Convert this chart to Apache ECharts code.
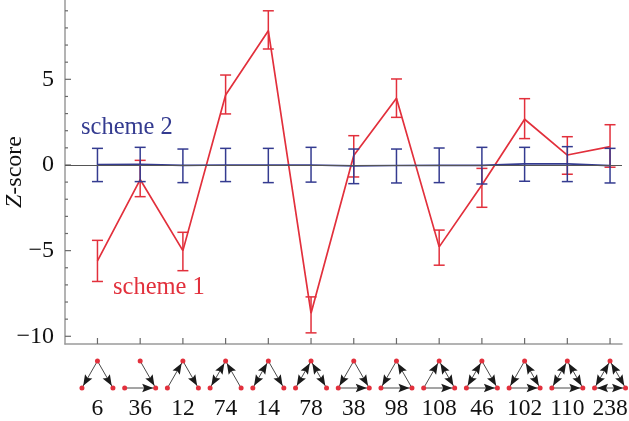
<!DOCTYPE html>
<html>
<head>
<meta charset="utf-8">
<style>
    html, body { margin: 0; padding: 0; background: #fff; }
    #main { width: 629px; height: 421px; }
</style>
<script src="https://cdn.jsdelivr.net/npm/echarts@6/dist/echarts.min.js"></script>
</head>
<body>
<div id="main"></div>
<script>
var categories = ['6', '36', '12', '74', '14', '78', '38', '98', '108', '46', '102', '110', '238'];

var scheme1Mean = [-5.6, -0.85, -5.0, 4.09, 7.84, -8.65, 0.55, 3.89, -4.78, -1.17, 2.67, 0.58, 1.07];
var scheme1High = [-4.4, 0.27, -3.93, 5.25, 9.0, -7.7, 1.71, 5.02, -3.8, -0.2, 3.87, 1.65, 2.35];
var scheme1Low = [-6.8, -1.85, -6.17, 2.98, 6.77, -9.8, -0.7, 2.78, -5.85, -2.47, 1.54, -0.54, -0.13];

var scheme2Mean = [0.02, 0.03, -0.02, 0, 0, 0, -0.05, -0.03, -0.02, -0.02, 0.07, 0.07, -0.04];
var scheme2High = [0.97, 1.03, 0.93, 0.97, 0.97, 1.03, 0.93, 0.93, 0.99, 1.03, 1.03, 1.07, 0.97];
var scheme2Low = [-0.97, -0.97, -1.03, -0.97, -1.03, -1.0, -1.09, -1.05, -1.03, -1.11, -0.95, -0.97, -1.05];

var majorTicks = [-10, -5, 0, 5];
var minorTicks = [-9, -8, -7, -6, -4, -3, -2, -1, 1, 2, 3, 4, 6, 7, 8, 9];

// triad motif per category, edges are from-to between top, left, right node
var motifs = [
    ['TL', 'TR'],
    ['TR', 'LR'],
    ['LT', 'TR'],
    ['TL', 'LT', 'RT'],
    ['TL', 'LT', 'TR'],
    ['TL', 'LT', 'TR', 'RT'],
    ['TL', 'TR', 'LR'],
    ['TL', 'RT', 'LR'],
    ['LT', 'TR', 'RT', 'LR'],
    ['TL', 'LT', 'TR', 'LR'],
    ['TL', 'TR', 'RT', 'LR'],
    ['TL', 'LT', 'TR', 'RT', 'LR'],
    ['TL', 'LT', 'TR', 'RT', 'LR', 'RL']
];

var RED = '#e2303c';
var BLUE = '#343b90';
var AXIS = '#9a9a9a';
var TICK = '#6a6a6a';
var FONT = '"Liberation Serif", "Times New Roman", serif';
var X_MIN = -0.76;
var X_MAX = 12.28;
var Y_MIN = -10.45;
var Y_MAX = 9.63;

var indexes = categories.map(function (c, i) { return i; });

function toPairs(values) {
    return values.map(function (v, i) { return [i, v]; });
}

function toRanges(low, high) {
    return low.map(function (v, i) { return [i, v, high[i]]; });
}

function errorBars(color) {
    return function (params, api) {
        var top = api.coord([api.value(0), api.value(2)]);
        var bottom = api.coord([api.value(0), api.value(1)]);
        var cap = 5.5;
        var style = { stroke: color, lineWidth: 1.5, fill: null };
        return {
            type: 'group',
            children: [
                { type: 'line', shape: { x1: top[0], y1: top[1], x2: bottom[0], y2: bottom[1] }, style: style },
                { type: 'line', shape: { x1: top[0] - cap, y1: top[1], x2: top[0] + cap, y2: top[1] }, style: style },
                { type: 'line', shape: { x1: bottom[0] - cap, y1: bottom[1], x2: bottom[0] + cap, y2: bottom[1] }, style: style }
            ]
        };
    };
}

// inward axis ticks as thin rect symbols sitting on the axis line
function tickSeries(points, size, offset) {
    return {
        type: 'scatter',
        data: points,
        symbol: 'rect',
        symbolSize: size,
        symbolOffset: offset,
        itemStyle: { color: TICK, opacity: 1 },
        clip: false,
        silent: true,
        z: 2
    };
}

function renderMotif(params, api) {
    var i = api.value(0);
    var base = api.coord([i, Y_MIN]);
    var nodes = {
        T: [base[0], base[1] + 17],
        L: [base[0] - 15.5, base[1] + 44],
        R: [base[0] + 15.5, base[1] + 44]
    };
    var children = [];
    var drawn = {};
    motifs[i].forEach(function (edge) {
        var a = nodes[edge[0]];
        var b = nodes[edge[1]];
        var key = [edge[0], edge[1]].sort().join('');
        if (!drawn[key]) {
            drawn[key] = true;
            children.push({
                type: 'line',
                shape: { x1: a[0], y1: a[1], x2: b[0], y2: b[1] },
                style: { stroke: '#4a4a4a', lineWidth: 1 }
            });
        }
        var dx = b[0] - a[0];
        var dy = b[1] - a[1];
        var len = Math.sqrt(dx * dx + dy * dy);
        var ux = dx / len;
        var uy = dy / len;
        var tipX = b[0] - ux * 2.5;
        var tipY = b[1] - uy * 2.5;
        var backX = tipX - ux * 11;
        var backY = tipY - uy * 11;
        var notchX = tipX - ux * 9;
        var notchY = tipY - uy * 9;
        children.push({
            type: 'polygon',
            shape: {
                points: [
                    [tipX, tipY],
                    [backX - uy * 4.2, backY + ux * 4.2],
                    [notchX, notchY],
                    [backX + uy * 4.2, backY - ux * 4.2]
                ]
            },
            style: { fill: '#1a1a1a' }
        });
    });
    ['T', 'L', 'R'].forEach(function (n) {
        children.push({
            type: 'circle',
            shape: { cx: nodes[n][0], cy: nodes[n][1], r: 2.5 },
            style: { fill: RED }
        });
    });
    return { type: 'group', children: children };
}

var myChart = echarts.init(document.getElementById('main'));

var option = {
    animation: false,
    backgroundColor: '#fff',
    grid: { left: 65, right: 7, top: 0, bottom: 77, outerBoundsMode: 'none' },
    graphic: [
        {
            type: 'text', left: 81, top: 115,
            style: { text: 'scheme 2', fill: BLUE, font: '24.5px ' + FONT }
        },
        {
            type: 'text', left: 113, top: 275,
            style: { text: 'scheme 1', fill: RED, font: '24.5px ' + FONT }
        }
    ],
    xAxis: {
        type: 'value',
        min: X_MIN,
        max: X_MAX,
        splitLine: { show: false },
        axisLine: { show: true, onZero: false, lineStyle: { color: AXIS, width: 1.5 } },
        axisTick: { show: false },
        axisLabel: {
            customValues: indexes,
            margin: 53,
            color: '#111',
            fontFamily: FONT,
            fontSize: 23.5,
            formatter: function (v) { return categories[Math.round(v)]; }
        }
    },
    yAxis: {
        type: 'value',
        min: Y_MIN,
        max: Y_MAX,
        name: '{i|Z}-score',
        nameLocation: 'middle',
        nameGap: 38,
        nameMoveOverlap: false,
        nameRotate: 90,
        nameTextStyle: {
            color: '#111',
            fontFamily: FONT,
            fontSize: 24,
            rich: { i: { fontStyle: 'italic', fontFamily: FONT, fontSize: 24, color: '#111' } }
        },
        splitLine: { show: false },
        axisLine: { show: true, onZero: false, lineStyle: { color: AXIS, width: 1.5 } },
        axisTick: { show: false },
        axisLabel: {
            customValues: majorTicks,
            margin: 11,
            color: '#111',
            fontFamily: FONT,
            fontSize: 24,
            formatter: function (v) { return String(v).replace('-', '\u2212'); }
        }
    },
    series: [
        tickSeries(majorTicks.map(function (v) { return [X_MIN, v]; }), [6, 1.2], [3, 0]),
        tickSeries(minorTicks.map(function (v) { return [X_MIN, v]; }), [3, 1.2], [1.5, 0]),
        tickSeries(indexes.map(function (i) { return [i, Y_MIN]; }), [1.2, 6], [0, -3]),
        {
            type: 'line',
            data: toPairs(scheme1Mean),
            showSymbol: false,
            lineStyle: { color: RED, width: 1.7 },
            z: 3
        },
        {
            type: 'custom',
            data: toRanges(scheme1Low, scheme1High),
            encode: { x: 0, y: [1, 2] },
            renderItem: errorBars(RED),
            z: 3
        },
        {
            type: 'custom',
            data: toRanges(scheme2Low, scheme2High),
            encode: { x: 0, y: [1, 2] },
            renderItem: errorBars(BLUE),
            z: 4
        },
        {
            type: 'line',
            data: toPairs(scheme2Mean),
            showSymbol: false,
            lineStyle: { color: BLUE, width: 1.7 },
            markLine: {
                silent: true,
                symbol: 'none',
                label: { show: false },
                lineStyle: { color: '#555', width: 1, type: 'solid' },
                data: [{ yAxis: 0 }]
            },
            z: 4
        },
        {
            type: 'custom',
            data: indexes.map(function (i) { return [i]; }),
            encode: { x: 0 },
            renderItem: renderMotif,
            clip: false,
            z: 5
        }
    ]
};
myChart.setOption(option);
</script>
</body>
</html>
